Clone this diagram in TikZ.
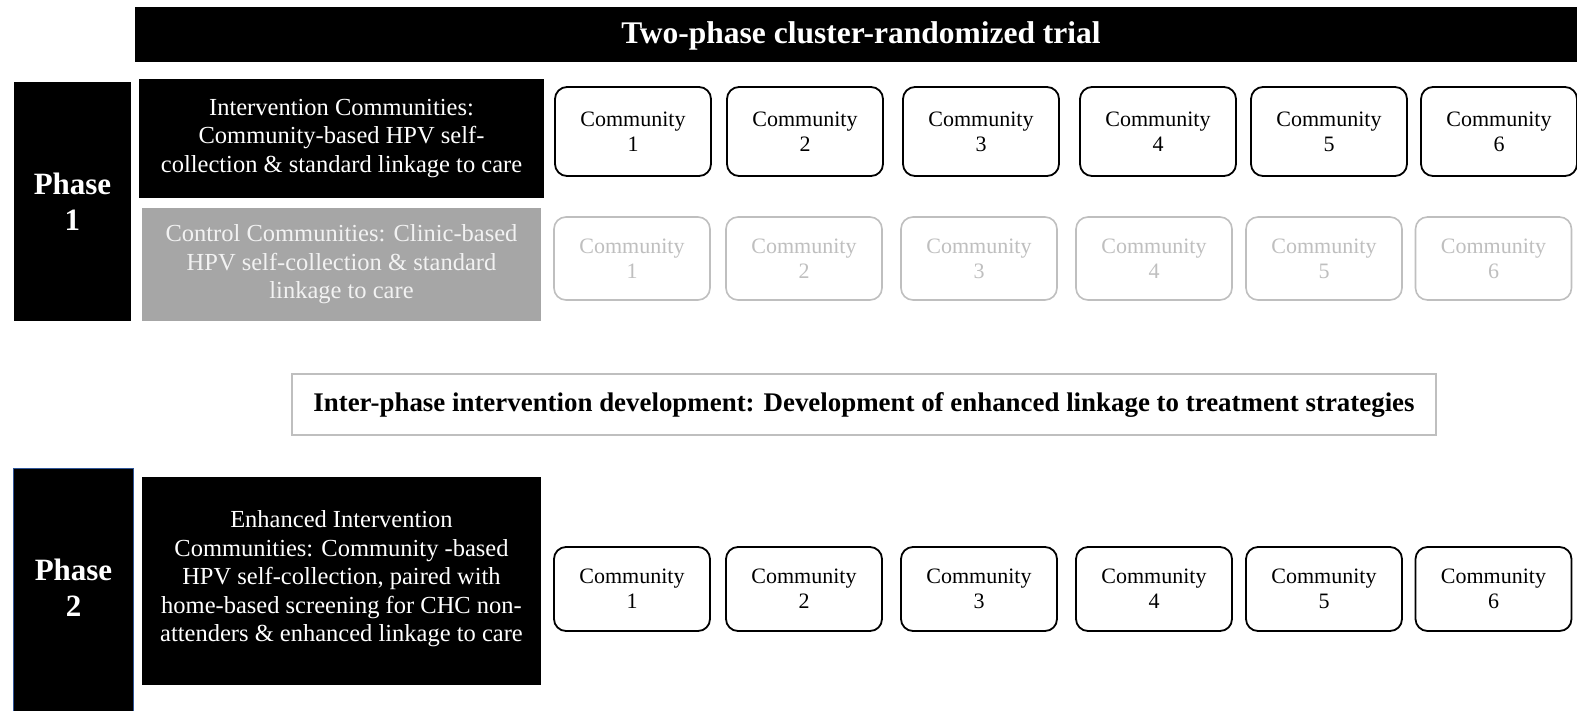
\documentclass[tikz,border=0pt]{standalone}
\usepackage{fontspec}
\setmainfont{Liberation Serif}
\definecolor{lgray}{HTML}{BFBFBF}
\definecolor{mgray}{HTML}{A6A6A6}
\definecolor{pblue}{HTML}{2F5597}
\begin{document}
\begin{tikzpicture}[x=1pt,y=-1pt,
  darkbox/.style={fill=black, text=white, align=center, inner sep=0pt},
  comm/.style={draw=black, line width=1.8pt, rounded corners=12pt, align=center,
    minimum width=156pt, inner sep=0pt, font=\fontsize{22}{25}\selectfont},
  commg/.style={comm, draw=lgray, text=lgray, line width=1.6pt},
  phasetxt/.style={font=\fontsize{31}{36}\selectfont\bfseries},
  desctxt/.style={font=\fontsize{24.5}{28.5}\selectfont}
]
\useasboundingbox (0,0) rectangle (1577,710);
\clip (0,0) rectangle (1577,710);
\fill[white] (0,0) rectangle (1577,710);

% banner
\node[darkbox, minimum width=1450pt, minimum height=55pt] (banner) at (860,34.5) {};
\node[text=white, inner sep=0pt, font=\fontsize{31.5}{34}\selectfont\bfseries] (title) at (861,35.5) {Two-phase cluster-randomized trial};

% Phase 1
\node[darkbox, phasetxt, minimum width=117pt, minimum height=239pt] (ph1) at (72.5,201.5) {Phase\\1};
\node[darkbox, desctxt, minimum width=405pt, minimum height=119pt] (int) at (341.5,138.5) {Intervention Communities:\\Community-based HPV self-\\collection \& standard linkage to care};
\node[fill=mgray, text={rgb,255:red,242;green,242;blue,242}, align=center, inner sep=0pt, desctxt, minimum width=399pt, minimum height=113pt] (ctl) at (341.5,264.5) {Control Communities: Clinic-based\\HPV self-collection \& standard\\linkage to care};

% Row 1
\node[comm, minimum height=89pt] (a1) at (633,131.5) {Community\\1};
\node[comm, minimum height=89pt] (a2) at (805,131.5) {Community\\2};
\node[comm, minimum height=89pt] (a3) at (981,131.5) {Community\\3};
\node[comm, minimum height=89pt] (a4) at (1158,131.5) {Community\\4};
\node[comm, minimum height=89pt] (a5) at (1329,131.5) {Community\\5};
\node[comm, minimum height=89pt] (a6) at (1499,131.5) {Community\\6};

% Row 2
\node[commg, minimum height=83pt] (b1) at (632,258.5) {Community\\1};
\node[commg, minimum height=83pt] (b2) at (804,258.5) {Community\\2};
\node[commg, minimum height=83pt] (b3) at (979,258.5) {Community\\3};
\node[commg, minimum height=83pt] (b4) at (1154,258.5) {Community\\4};
\node[commg, minimum height=83pt] (b5) at (1324,258.5) {Community\\5};
\node[commg, minimum height=83pt] (b6) at (1493.5,258.5) {Community\\6};

% Inter-phase
\node[draw=lgray, line width=1.8pt, minimum width=1144pt, minimum height=61pt, inner sep=0pt, font=\fontsize{26.9}{30}\selectfont\bfseries] (inter) at (864,404.5) {Inter-phase intervention development: Development of enhanced linkage to treatment strategies};

% Phase 2
\node[darkbox, draw=pblue, line width=1pt, minimum width=120pt, minimum height=250pt] (ph2) at (73.5,593) {};
\node[text=white, phasetxt, align=center, inner sep=0pt] (ph2t) at (73.5,587.5) {Phase\\2};
\node[darkbox, minimum width=399pt, minimum height=208pt] (enh) at (341.5,581) {};
\node[text=white, desctxt, align=center, inner sep=0pt] (enht) at (341.5,579) {Enhanced Intervention\\Communities: Community -based\\HPV self-collection, paired with\\home-based screening for CHC non-\\attenders \& enhanced linkage to care};

% Row 3
\node[comm, minimum height=84pt] (c1) at (632,589) {Community\\1};
\node[comm, minimum height=84pt] (c2) at (804,589) {Community\\2};
\node[comm, minimum height=84pt] (c3) at (979,589) {Community\\3};
\node[comm, minimum height=84pt] (c4) at (1154,589) {Community\\4};
\node[comm, minimum height=84pt] (c5) at (1324,589) {Community\\5};
\node[comm, minimum height=84pt] (c6) at (1493.5,589) {Community\\6};
\end{tikzpicture}
\end{document}
